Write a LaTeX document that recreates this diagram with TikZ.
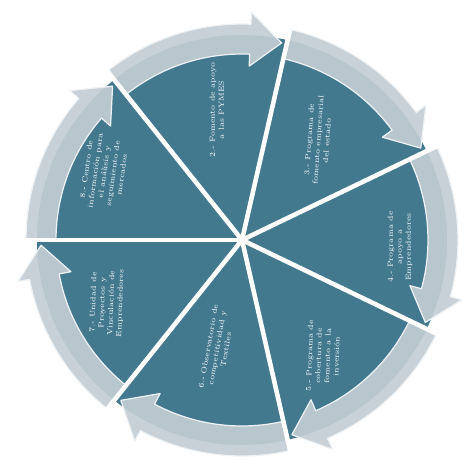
\documentclass[tikz,border=0pt]{standalone}
\usepackage{xcolor}
\usepackage{tikz}
\definecolor{slicefill}{HTML}{43798F}
\definecolor{ringfill}{HTML}{C2CDD4}
\definecolor{ringedge}{HTML}{EEF2F4}
% one silver arrow of the ring: tail angle, tip angle
\newcommand{\ringarrow}[2]{%
  \filldraw[band] (#1:186) arc[start angle=#1, end angle=#2+9, radius=186]
    -- (#2+9:174) -- (#2:201) -- (#2+9:228)
    -- (#2+9:216) arc[start angle=#2+9, end angle=#1, radius=216] -- cycle;}

\begin{document}
\begin{tikzpicture}[
        scale=0.02,
        slice/.style={
            fill=slicefill
        },
        band/.style={
            fill=ringfill,
            fill opacity=0.92,
            draw=ringedge,
            line width=0.7pt,
            line join=round
        },
        gap/.style={
            draw=white,
            line width=2.6pt
        },
        caption/.style={
            text=white,
            align=center,
            inner sep=1pt,
            font=\fontsize{4.2}{5.1}\selectfont
        }
    ]
        \useasboundingbox (-242,-228) rectangle (223,240);

        % Pie slices, clockwise from the left
        \fill[slice] (0,0) -- (180:205) arc[start angle=180, end angle=128.57, radius=205] -- cycle;
        \fill[slice] (0,0) -- (128.57:205) arc[start angle=128.57, end angle=77.14, radius=205] -- cycle;
        \fill[slice] (0,0) -- (77.14:205) arc[start angle=77.14, end angle=25.71, radius=205] -- cycle;
        \fill[slice] (0,0) -- (25.71:205) arc[start angle=25.71, end angle=-25.71, radius=205] -- cycle;
        \fill[slice] (0,0) -- (-25.71:205) arc[start angle=-25.71, end angle=-77.14, radius=205] -- cycle;
        \fill[slice] (0,0) -- (-77.14:205) arc[start angle=-77.14, end angle=-128.57, radius=205] -- cycle;
        \fill[slice] (0,0) -- (-128.57:205) arc[start angle=-128.57, end angle=-180, radius=205] -- cycle;

        % Ring of arrows
        \ringarrow{180}{130.07}
        \ringarrow{128.57}{78.64}
        \ringarrow{77.14}{27.21}
        \ringarrow{25.71}{-24.21}
        \ringarrow{-25.71}{-75.64}
        \ringarrow{-77.14}{-127.07}
        \ringarrow{-128.57}{-178.5}

        % White cuts between the slices
        \coordinate (hub) at (0,0);
        \draw[gap] (hub) -- (180:232);
        \draw[gap] (hub) -- (128.57:232);
        \draw[gap] (hub) -- (77.14:232);
        \draw[gap] (hub) -- (25.71:232);
        \draw[gap] (hub) -- (-25.71:232);
        \draw[gap] (hub) -- (-77.14:232);
        \draw[gap] (hub) -- (-128.57:232);

        % Texts
        \node[caption, rotate=90] (fomento) at (-25,130) {2.- Fomento de apoyo\\a las PYMES};
        \node[caption, rotate=86] (desarrollo) at (76,100) {3.- Programa de\\fomento empresarial\\del estado};
        \node[caption, rotate=90] (emprend) at (158,-7) {4.- Programa de\\apoyo a\\Emprendedores};
        \node[caption, rotate=88] (inversion) at (81,-116) {5.- Programa de\\cobertura de\\fomento a la\\inversión};
        \node[caption, rotate=80] (observ) at (-25,-108) {6.- Observatorio de\\competitividad y\\Textiles};
        \node[caption, rotate=88] (unidad) at (-135,-63) {7.- Unidad de\\Proyectos y\\Vinculación de\\Emprendedores};
        \node[caption, rotate=82] (centro) at (-138,68) {8.- Centro de\\información para\\el análisis y\\seguimiento de\\mercados};
    \end{tikzpicture}
\end{document}
